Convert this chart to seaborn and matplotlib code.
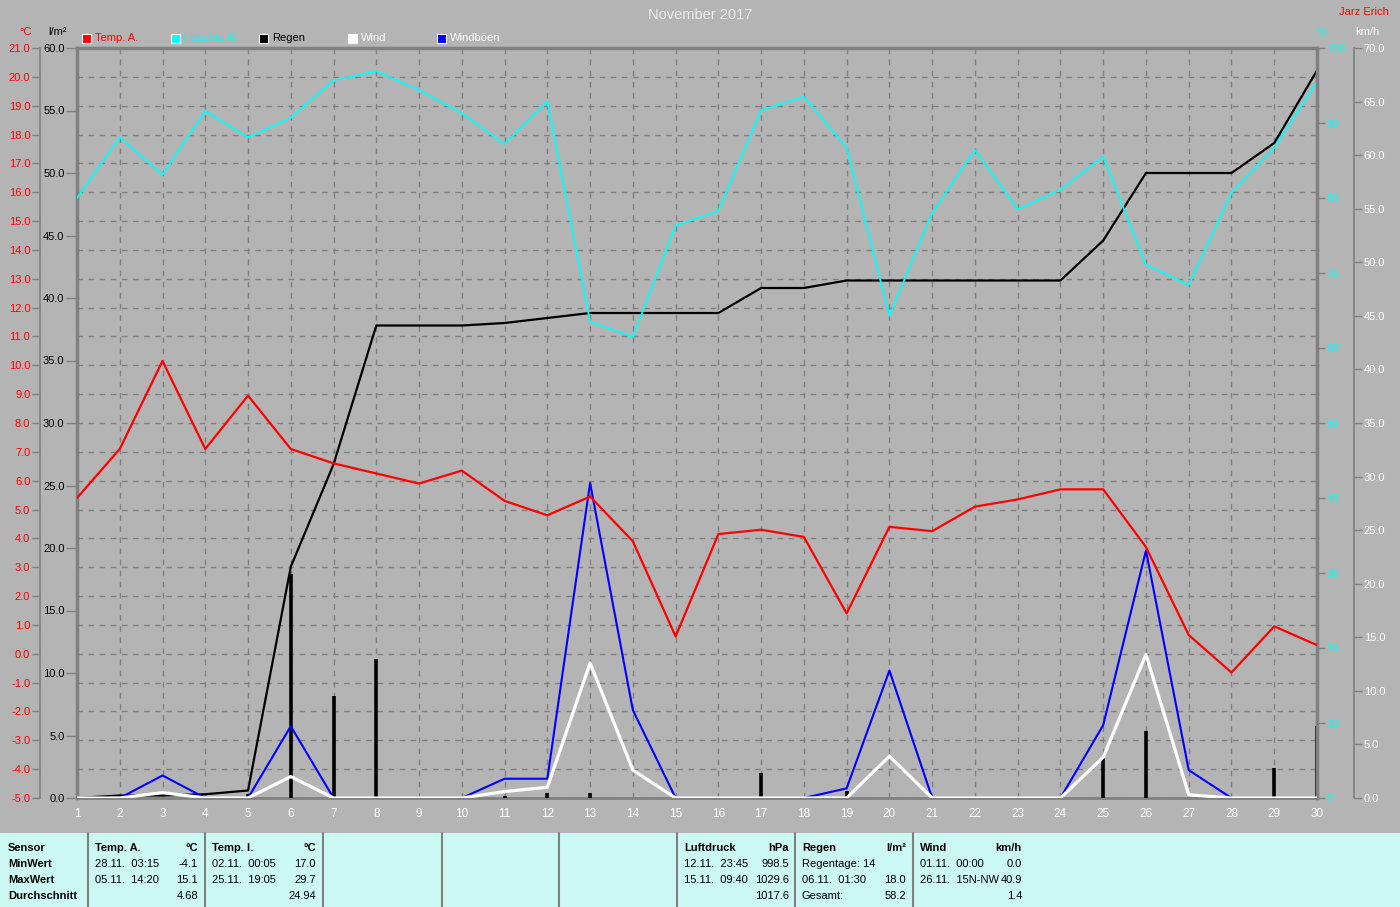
import numpy as np
import pandas as pd
import seaborn as sns
import matplotlib.pyplot as plt
from matplotlib.patches import Rectangle

# Tageswerte November 2017
days = list(range(1, 31))
temp_a = [5.4, 7.1, 10.15, 7.1, 8.95, 7.1, 6.6, 6.25, 5.9, 6.35, 5.3, 4.8, 5.45, 3.9, 0.6,
          4.15, 4.3, 4.05, 1.4, 4.4, 4.25, 5.1, 5.35, 5.7, 5.7, 3.7, 0.65, -0.65, 0.95, 0.3]
feuchte = [80.0, 88.1, 83.1, 91.6, 88.1, 90.7, 95.7, 96.9, 94.4, 91.3, 87.2, 92.9, 63.5, 61.5, 76.3,
           78.3, 91.7, 93.5, 86.7, 64.3, 78.0, 86.4, 78.5, 81.1, 85.5, 71.1, 68.4, 80.7, 86.7, 95.5]
regen_sum = [0.0, 0.2, 0.2, 0.3, 0.6, 18.5, 26.7, 37.8, 37.8, 37.8, 38.0, 38.4, 38.8, 38.8, 38.8,
             38.8, 40.8, 40.8, 41.4, 41.4, 41.4, 41.4, 41.4, 41.4, 44.6, 50.0, 50.0, 50.0, 52.4, 58.2]
regen_tag = [0.0, 0.2, 0.0, 0.1, 0.3, 17.9, 8.2, 11.1, 0.0, 0.0, 0.2, 0.4, 0.4, 0.0, 0.0,
             0.0, 2.0, 0.0, 0.6, 0.0, 0.0, 0.0, 0.0, 0.0, 3.2, 5.4, 0.0, 0.0, 2.4, 5.8]
wind = [0.0, 0.0, 0.5, 0.0, 0.0, 2.0, 0.0, 0.0, 0.0, 0.0, 0.6, 1.0, 12.6, 2.6, 0.0,
        0.0, 0.0, 0.0, 0.0, 3.9, 0.0, 0.0, 0.0, 0.0, 3.8, 13.4, 0.3, 0.0, 0.0, 0.0]
boeen = [0.0, 0.0, 2.1, 0.0, 0.0, 6.7, 0.0, 0.0, 0.0, 0.0, 1.8, 1.8, 29.4, 8.2, 0.0,
         0.0, 0.0, 0.0, 0.9, 11.9, 0.0, 0.0, 0.0, 0.0, 6.8, 23.1, 2.6, 0.0, 0.0, 0.0]

df = pd.DataFrame({"Tag": days, "Temp": temp_a, "Feuchte": feuchte, "RegenSum": regen_sum,
                   "Regen": regen_tag, "Wind": wind, "Boeen": boeen})

# Statistik-Tabelle unten
table_cols = [
    (8, None, ["Sensor", "MinWert", "MaxWert", "Durchschnitt"], None),
    (95, 198, ["Temp. A.", "28.11.  03:15", "05.11.  14:20", ""], ["°C", "-4.1", "15.1", "4.68"]),
    (212, 316, ["Temp. I.", "02.11.  00:05", "25.11.  19:05", ""], ["°C", "17.0", "29.7", "24.94"]),
    (684, 789, ["Luftdruck", "12.11.  23:45", "15.11.  09:40", ""], ["hPa", "998.5", "1029.6", "1017.6"]),
    (802, 906, ["Regen", "Regentage: 14", "06.11.  01:30", "Gesamt:"], ["l/m²", "", "18.0", "58.2"]),
    (920, 1022, ["Wind", "01.11.  00:00", "26.11.  15N-NW", ""], ["km/h", "0.0", "40.9", "1.4"]),
]
separators = [88, 205, 323, 442, 559, 677, 795, 913]

BG = "#b4b4b4"
GRID = "#808080"
W, H = 1400, 907

sns.set_style("white")
plt.rcParams["font.family"] = ["Liberation Sans", "DejaVu Sans"]

def fx(x):
    return x / W

def fy(y):
    return 1 - y / H

fig = plt.figure(figsize=(14, 9.07), dpi=100, facecolor=BG)

# Temperatur-Achse als Grundachse (mit Gitter)
ax_t = fig.add_axes([fx(77), fy(798), 1240 / W, 750 / H])
ax_t.set_facecolor(BG)
ax_t.set_xlim(1, 30)
ax_t.set_ylim(-5, 21)
ax_t.set_xticks(days)
ax_t.set_yticks(np.arange(-5, 22, 1))
ax_t.set_yticklabels([f"{v:.1f}" for v in np.arange(-5, 22, 1)])
ax_t.grid(True, color=GRID, linestyle=(0, (4, 4)), linewidth=1)
ax_t.tick_params(axis="y", colors=GRID, labelcolor="red", length=6, width=1, pad=1, labelsize=8)
ax_t.tick_params(axis="x", colors=GRID, labelcolor="white", length=4, width=1, pad=3, labelsize=8.5)
ax_t.spines["left"].set_position(("outward", 37 * 0.72))
ax_t.spines["left"].set_color(GRID)
ax_t.spines["left"].set_linewidth(1.2)
ax_t.spines["top"].set_color(GRID)
ax_t.spines["top"].set_linewidth(2.5)
ax_t.spines["bottom"].set_color(GRID)
ax_t.spines["bottom"].set_linewidth(2)
ax_t.spines["right"].set_visible(False)
ax_t.set_xlabel("")
ax_t.set_ylabel("")

# Regen (l/m²)
ax_r = ax_t.twinx()
ax_r.set_ylim(0, 60)
ax_r.yaxis.tick_left()
ax_r.yaxis.set_label_position("left")
ax_r.set_yticks(np.arange(0, 61, 5))
ax_r.set_yticklabels([f"{v:.1f}" for v in np.arange(0, 61, 5)])
ax_r.tick_params(axis="y", colors=GRID, labelcolor="black", length=8, width=1, pad=1, labelsize=8)
for s in ["top", "bottom", "right"]:
    ax_r.spines[s].set_visible(False)
ax_r.spines["left"].set_color(GRID)
ax_r.spines["left"].set_linewidth(2.5)
ax_r.vlines(df["Tag"], 0, df["Regen"], color="black", linewidth=2.6)
sns.lineplot(data=df, x="Tag", y="RegenSum", ax=ax_r, color="black", linewidth=1.6)
ax_r.set_ylabel("")

# Feuchte (%)
ax_h = ax_t.twinx()
ax_h.set_ylim(0, 100)
ax_h.set_yticks(np.arange(0, 101, 10))
ax_h.tick_params(axis="y", colors=GRID, labelcolor="cyan", length=6, width=1, pad=1, labelsize=8)
for s in ["top", "bottom", "left"]:
    ax_h.spines[s].set_visible(False)
ax_h.spines["right"].set_color(GRID)
ax_h.spines["right"].set_linewidth(2.5)
sns.lineplot(data=df, x="Tag", y="Feuchte", ax=ax_h, color="cyan", linewidth=1.3)
ax_h.set_ylabel("")

# Wind (km/h)
ax_w = ax_t.twinx()
ax_w.set_ylim(0, 70)
ax_w.set_yticks(np.arange(0, 71, 5))
ax_w.set_yticklabels([f"{v:.1f}" for v in np.arange(0, 71, 5)])
ax_w.tick_params(axis="y", colors=GRID, labelcolor="white", length=6, width=1, pad=1, labelsize=8)
for s in ["top", "bottom", "left"]:
    ax_w.spines[s].set_visible(False)
ax_w.spines["right"].set_position(("outward", 37 * 0.72))
ax_w.spines["right"].set_color(GRID)
ax_w.spines["right"].set_linewidth(1.2)
sns.lineplot(data=df, x="Tag", y="Boeen", ax=ax_w, color="blue", linewidth=1.5)
sns.lineplot(data=df, x="Tag", y="Wind", ax=ax_w, color="white", linewidth=2.3)
sns.lineplot(data=df, x="Tag", y="Temp", ax=ax_w, color="red", linewidth=1.6,
             transform=ax_t.transData)
ax_w.set_ylabel("")
ax_w.set_xlabel("")
ax_w.set_xlim(1, 30)

# Titel und Achseneinheiten
fig.text(0.5, fy(15), "November 2017", color="#ececec", fontsize=10.5, ha="center", va="center")
fig.text(fx(1389), fy(12), "Jarz Erich", color="red", fontsize=8, ha="right", va="center")
fig.text(fx(26), fy(32), "°C", color="red", fontsize=8, ha="center", va="center")
fig.text(fx(58), fy(32), "l/m²", color="black", fontsize=8, ha="center", va="center")
fig.text(fx(1322), fy(32), "%", color="cyan", fontsize=8, ha="center", va="center")
fig.text(fx(1367), fy(32), "km/h", color="white", fontsize=8, ha="center", va="center")

# Legende oben
legend_items = [
    (82, "red", "Temp. A.", "red"),
    (171, "cyan", "Feuchte A.", "cyan"),
    (259, "black", "Regen", "black"),
    (348, "white", "Wind", "white"),
    (437, "blue", "Windböen", "white"),
]
for x0, fc, label, tc in legend_items:
    fig.patches.append(Rectangle((fx(x0), fy(43)), 9 / W, 9 / H, transform=fig.transFigure,
                                 facecolor=fc, edgecolor="white", linewidth=0.8))
    fig.text(fx(x0 + 13), fy(38), label, color=tc, fontsize=8, ha="left", va="center")

# Tabelle unten
fig.patches.append(Rectangle((0, 0), 1, fy(833), transform=fig.transFigure,
                             facecolor="#ccf8f4", edgecolor="none"))
for xs in separators:
    fig.lines.append(plt.Line2D([fx(xs), fx(xs)], [0, fy(833)], transform=fig.transFigure,
                                color=GRID, linewidth=1.5))
row_y = [848, 864, 880, 896]
for xl, xr, left_txt, right_txt in table_cols:
    for i, yy in enumerate(row_y):
        bold = (i == 0) or xr is None
        fig.text(fx(xl), fy(yy), left_txt[i], fontsize=8, ha="left", va="center",
                 fontweight="bold" if bold else "normal", color="black")
        if right_txt is not None:
            fig.text(fx(xr), fy(yy), right_txt[i], fontsize=8, ha="right", va="center",
                     fontweight="bold" if i == 0 else "normal", color="black")

fig.savefig("out.png", dpi=100, facecolor=BG)
